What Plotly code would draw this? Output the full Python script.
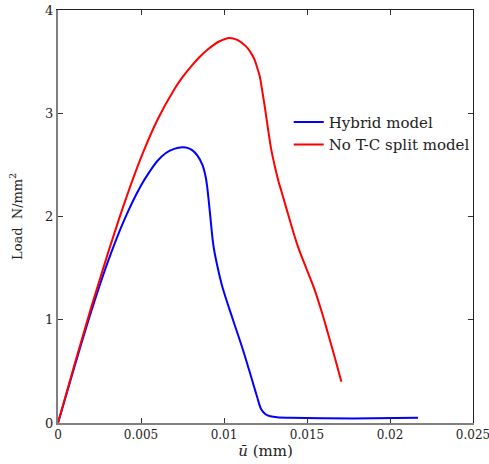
import plotly.graph_objects as go

# ---- data ----
hybrid_u = [0, 0.001, 0.002, 0.003, 0.004, 0.005, 0.0055, 0.006, 0.0065, 0.007,
            0.0075, 0.0078, 0.0081, 0.0084, 0.0087, 0.0089, 0.0090, 0.0091, 0.0092, 0.0093,
            0.0094, 0.0096, 0.0099, 0.01054, 0.01114, 0.0115, 0.01174, 0.0120, 0.01225,
            0.0125, 0.0128, 0.0132, 0.014, 0.016, 0.019, 0.02169]
hybrid_load = [0, 0.55, 1.08, 1.56, 1.97, 2.30, 2.43, 2.54, 2.615, 2.655,
               2.67, 2.665, 2.64, 2.59, 2.50, 2.38, 2.27, 2.12, 1.96, 1.80,
               1.68, 1.52, 1.32, 1.0, 0.71, 0.52, 0.39, 0.25, 0.13,
               0.085, 0.065, 0.055, 0.05, 0.045, 0.045, 0.05]

notc_u = [0, 0.001, 0.002, 0.003, 0.004, 0.005, 0.006, 0.007, 0.0075, 0.008, 0.0085,
          0.009, 0.0097, 0.01034, 0.0108, 0.01134, 0.0116, 0.01184, 0.0120, 0.01215,
          0.0123, 0.01245, 0.01265, 0.01285, 0.0131, 0.0133, 0.01345, 0.0137, 0.0139,
          0.01445, 0.0150, 0.01546, 0.0159, 0.01626, 0.0167, 0.01707]
notc_load = [0, 0.57, 1.12, 1.64, 2.13, 2.57, 2.94, 3.23, 3.35, 3.45, 3.54,
             3.615, 3.695, 3.73, 3.71, 3.645, 3.59, 3.52, 3.44, 3.36,
             3.22, 3.07, 2.85, 2.645, 2.46, 2.33, 2.25, 2.11, 2.0,
             1.71, 1.48, 1.29, 1.07, 0.87, 0.62, 0.40]

x_ticks = [0, 0.005, 0.01, 0.015, 0.02, 0.025]
x_tick_text = ["0", "0.005", "0.01", "0.015", "0.02", "0.025"]
y_ticks = [0, 1, 2, 3, 4]
y_tick_text = ["0", "1", "2", "3", "4"]

FONT = "DejaVu Serif"

fig = go.Figure()
fig.add_trace(go.Scatter(x=hybrid_u, y=hybrid_load, mode="lines", name="Hybrid model",
                         line=dict(color="#0000ff", width=2, shape="spline", smoothing=1.0)))
fig.add_trace(go.Scatter(x=notc_u, y=notc_load, mode="lines", name="No T-C split model",
                         line=dict(color="#ff0000", width=2, shape="spline", smoothing=1.0)))

fig.update_layout(
    width=489, height=464,
    margin=dict(l=58, r=16, t=10, b=41, autoexpand=False),
    plot_bgcolor="white", paper_bgcolor="white",
    font=dict(family=FONT, color="#222222"),
    xaxis=dict(range=[0, 0.025], tickvals=x_ticks, ticktext=x_tick_text, automargin=False,
               ticklabeloverflow="allow",
               ticks="inside", ticklen=5, tickcolor="#333333", showgrid=False, zeroline=False,
               showline=True, linecolor="#808080", linewidth=2,
               tickfont=dict(size=12, family=FONT, color="#222222"),
               title=dict(text="<i>ū</i> (mm)", font=dict(size=15, family=FONT), standoff=3)),
    yaxis=dict(range=[0, 4], tickvals=y_ticks, ticktext=y_tick_text, automargin=False,
               ticks="inside", ticklen=5, tickcolor="#333333", showgrid=False, zeroline=False,
               showline=True, linecolor="#808080", linewidth=2,
               tickfont=dict(size=13, family=FONT, color="#222222"),
               title=dict(text="Load  N/mm<sup>2</sup>", font=dict(size=13, family=FONT), standoff=20)),
    xaxis2=dict(range=[0, 0.025], tickvals=x_ticks, overlaying="x", side="top", automargin=False,
                ticks="inside", ticklen=5, tickcolor="#333333", showticklabels=False,
                showgrid=False, zeroline=False, showline=True, linecolor="#222222", linewidth=1),
    yaxis2=dict(range=[0, 4], tickvals=y_ticks, overlaying="y", side="right", automargin=False,
                ticks="inside", ticklen=5, tickcolor="#333333", showticklabels=False,
                showgrid=False, zeroline=False, showline=True, linecolor="#222222", linewidth=1),
    legend=dict(x=0.556, y=0.768, xanchor="left", yanchor="top",
                bgcolor="rgba(0,0,0,0)", font=dict(size=15, family=FONT, color="#222222"),
                itemwidth=30, tracegroupgap=0),
    showlegend=True,
)

# invisible trace to activate the mirrored (top/right) axes
fig.add_trace(go.Scatter(x=[None], y=[None], xaxis="x2", yaxis="y2", showlegend=False,
                         hoverinfo="skip"))

fig.write_html("out.html")
